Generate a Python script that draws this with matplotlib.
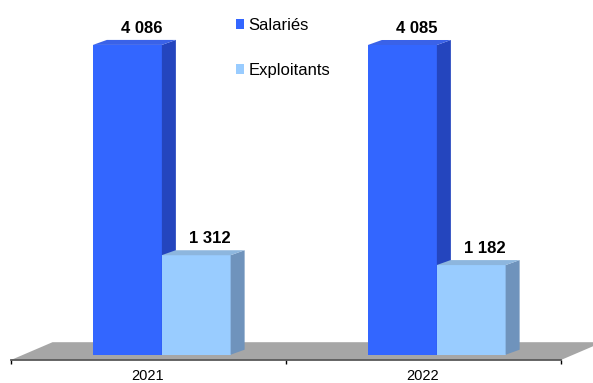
import matplotlib.pyplot as plt
from matplotlib.patches import Polygon, Patch

plt.rcParams['font.family'] = ['Liberation Sans', 'DejaVu Sans']

# data
years = ['2021', '2022']
salaries = [4086, 4085]
exploitants = [1312, 1182]
series_names = ['Salariés', 'Exploitants']

# colours: front, side, top
blue = ('#3366FF', '#2445BE', '#3A62E8')
light = ('#99CCFF', '#6F93BC', '#8DB6DE')

fig = plt.figure(figsize=(5.93, 3.83), dpi=100)
ax = fig.add_axes([0, 0, 1, 1])

# pixel -> data helpers (1 category = 275 px, 1 px = 13.19 units)
px_x = 1 / 275.0
px_y = 13.19
ax.set_xlim(-148 * px_x, (593 - 148) * px_x)
ax.set_ylim(-(383 - 354.7) * px_y, 354.7 * px_y)

bar_w = 69 * px_x
dx, dy = 14 * px_x, 5 * px_y
axis_y = -5.5 * px_y

# floor
fdx, fdy = 42 * px_x, 18 * px_y
floor = Polygon([(-0.5, axis_y), (1.5, axis_y), (1.5 + fdx, axis_y + fdy),
                 (-0.5 + fdx, axis_y + fdy)], closed=True,
                facecolor='#A6A6A6', edgecolor='none', zorder=1)
ax.add_patch(floor)


def bar3d(x, h, cols, z):
    x0, x1 = x - bar_w / 2, x + bar_w / 2
    ax.bar(x, h, width=bar_w, color=cols[0], zorder=z)
    side = Polygon([(x1, 0), (x1, h), (x1 + dx, h + dy), (x1 + dx, dy)],
                   facecolor=cols[1], edgecolor='none', zorder=z)
    top = Polygon([(x0, h), (x1, h), (x1 + dx, h + dy), (x0 + dx, h + dy)],
                  facecolor=cols[2], edgecolor='none', zorder=z)
    ax.add_patch(side)
    ax.add_patch(top)
    label = f'{h:,}'.replace(',', ' ')
    ax.text(x + dx, h + dy + 7 * px_y, label, ha='center', va='baseline',
            fontsize=12, fontweight='bold', zorder=10)


for i in range(len(years)):
    bar3d(i - 0.075, salaries[i], blue, 2 + 2 * i)
    bar3d(i + 0.175, exploitants[i], light, 3 + 2 * i)

# axis
for s in ['top', 'left', 'right']:
    ax.spines[s].set_visible(False)
ax.spines['bottom'].set_position(('data', axis_y))
ax.spines['bottom'].set_bounds(-0.5, 1.5)
ax.spines['bottom'].set_color('#5A5A5A')
ax.spines['bottom'].set_linewidth(1.3)
ax.spines['bottom'].set_zorder(3)
ax.set_xticks([-0.5, 0.5, 1.5])
ax.set_xticklabels([])
ax.tick_params(axis='x', which='major', direction='out', length=3,
               width=1, color='black')
ax.set_xticks([0, 1], minor=True)
ax.set_xticklabels(years, minor=True, fontsize=10.5)
ax.tick_params(axis='x', which='minor', length=0, pad=6)
ax.set_yticks([])

handles = [Patch(facecolor=blue[0]), Patch(facecolor=light[0])]
ax.legend(handles, series_names, loc='upper left',
          bbox_to_anchor=(236 / 593, 1 - 18 / 383), frameon=False,
          fontsize=12, handlelength=0.5, handleheight=0.5,
          handletextpad=0.25, labelspacing=1.8, borderpad=0,
          borderaxespad=0)

fig.savefig('out.png', dpi=100)
